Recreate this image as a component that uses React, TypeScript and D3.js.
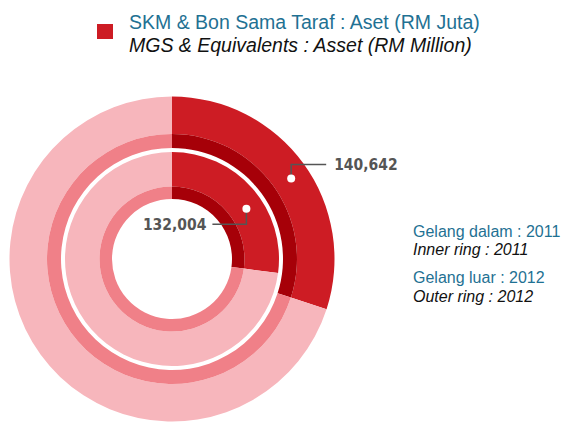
import React from "react";
import * as d3 from "d3";

const years = ["2011", "2012"];
const mgsValues = [132004, 140642];
const otherValues = [355100, 328200];
const valueLabels = ["132,004", "140,642"];
const titleLines = ["SKM & Bon Sama Taraf : Aset (RM Juta)", "MGS & Equivalents : Asset (RM Million)"];
const ringLegend = [
  ["Gelang dalam : 2011", "Inner ring : 2011"],
  ["Gelang luar : 2012", "Outer ring : 2012"],
];

const W = 563;
const H = 423;
const cx = 172;
const cy = 259;

// ring geometry [darkInner, darkOuter(=lightInner), lightOuter]
const rings = [
  { r0: 60, r1: 72.5, r2: 107 },
  { r0: 111, r1: 125, r2: 162.5 },
];

const RED = "#CD1C24";
const DARKRED = "#A60008";
const PINK = "#F7B6BC";
const MIDPINK = "#F08088";
const TEAL = "#1F7193";
const LABEL = "#555555";

export default function App() {
  const pie = d3.pie<number>().sort(null).value((d) => d);
  const arc = d3.arc<d3.PieArcDatum<number>>();
  const dotAngle = (56 * Math.PI) / 180;

  return (
    <svg width={W} height={H} style={{ position: "absolute", left: 0, top: 0, background: "#fff" }}>
      <g transform={`translate(${cx},${cy})`}>
        {years.map((y, i) => {
          const arcs = pie([mgsValues[i], otherValues[i]]);
          const g = rings[i];
          return (
            <g key={y}>
              {arcs.map((a, j) => (
                <g key={j}>
                  <path
                    d={arc.innerRadius(g.r1).outerRadius(g.r2)(a) || ""}
                    fill={j === 0 ? RED : PINK}
                  />
                  <path
                    d={arc.innerRadius(g.r0).outerRadius(g.r1)(a) || ""}
                    fill={j === 0 ? DARKRED : MIDPINK}
                  />
                </g>
              ))}
            </g>
          );
        })}
        {years.map((y, i) => {
          const g = rings[i];
          const rm = (g.r1 + g.r2) / 2;
          const px = rm * Math.sin(dotAngle);
          const py = -rm * Math.cos(dotAngle);
          const ly = py + (i === 0 ? 15.5 : -14);
          const lx = i === 0 ? px - 34 : px + 35;
          return (
            <g key={"lab" + y}>
              <polyline
                points={`${px},${py} ${px},${ly} ${lx},${ly}`}
                fill="none"
                stroke="#555"
                strokeWidth={1.5}
              />
              <circle cx={px} cy={py} r={4} fill="#fff" />
              <text
                x={i === 0 ? lx - 6 : lx + 8}
                y={ly}
                dy="0.36em"
                textAnchor={i === 0 ? "end" : "start"}
                fontFamily="'DejaVu Sans Condensed', 'Liberation Sans Narrow', sans-serif"
                fontWeight="bold"
                fontSize={15.5}
                fill={LABEL}
              >
                {valueLabels[i]}
              </text>
            </g>
          );
        })}
      </g>
      <rect x={97} y={24} width={16} height={15} fill={RED} />
      <text x={129} y={28.5} fontFamily="'Liberation Sans', Arial, sans-serif" fontSize={19.5} fill={TEAL}>
        {titleLines[0]}
      </text>
      <text
        x={129}
        y={52}
        fontFamily="'Liberation Sans', Arial, sans-serif"
        fontSize={19.5}
        fontStyle="italic"
        fill="#111"
      >
        {titleLines[1]}
      </text>
      {ringLegend.map((l, i) => (
        <g key={l[0]}>
          <text x={413} y={236.7 + i * 46.5} fontFamily="'Liberation Sans', Arial, sans-serif" fontSize={16} fill={TEAL}>
            {l[0]}
          </text>
          <text
            x={413}
            y={255 + i * 46.5}
            fontFamily="'Liberation Sans', Arial, sans-serif"
            fontSize={16}
            fontStyle="italic"
            fill="#111"
          >
            {l[1]}
          </text>
        </g>
      ))}
    </svg>
  );
}
